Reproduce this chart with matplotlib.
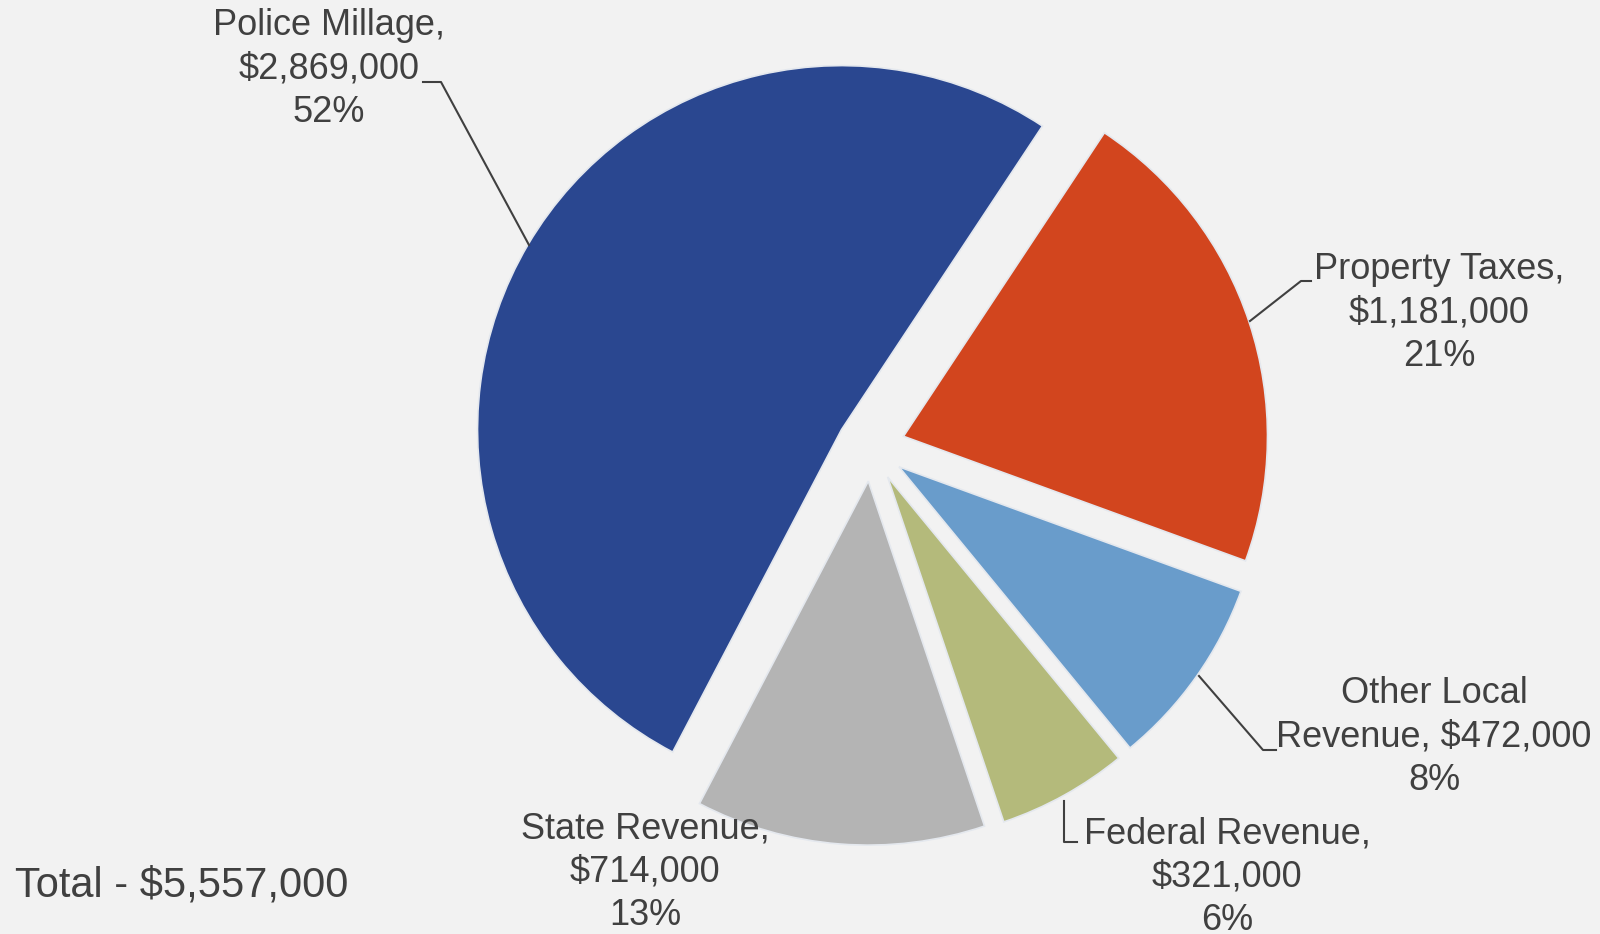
import matplotlib
matplotlib.use("Agg")
import matplotlib.pyplot as plt
from matplotlib.lines import Line2D

plt.rcParams['font.family'] = ['Liberation Sans', 'DejaVu Sans']

# ---- data ----
categories = ["Property Taxes", "Other Local Revenue", "Federal Revenue", "State Revenue", "Police Millage"]
values = [1181000, 472000, 321000, 714000, 2869000]
colors = ["#D2451E", "#699CCB", "#B4BA7B", "#B4B4B4", "#2A4790"]
label_heads = ["Property Taxes,", "Other Local\nRevenue,", "Federal Revenue,", "State Revenue,", "Police Millage,"]
total_text = "Total - $5,557,000"

W, H = 1600, 934
BG = "#F2F2F2"
TXT = "#404040"

fig = plt.figure(figsize=(W / 100, H / 100), dpi=100, facecolor=BG)
ax = fig.add_axes([0, 0, 1, 1])
ax.set_facecolor(BG)

# pie geometry in pixels
cx, cy, R = 871, 934 - 447, 364

ax.pie(values, colors=colors, startangle=56.5, counterclock=False,
       explode=[0.094] * len(values), radius=1, center=(0, 0),
       wedgeprops=dict(linewidth=1.2, edgecolor="#E4E8EE", clip_on=False))
ax.set_xlim(-cx / R, (W - cx) / R)
ax.set_ylim(-cy / R, (H - cy) / R)
ax.set_aspect("equal")
ax.axis("off")

total = sum(values)

def px(x, y):
    return x / W, 1 - y / H

# label positions (pixel centers, top-origin)
label_pos = [(1439, 313), (1434, 737), (1227, 877), (645, 872), (329, 69)]
for head, v, (x, y) in zip(label_heads, values, label_pos):
    pct = round(v / total * 100)
    if "\n" in head:
        s = f"{head} ${v:,}\n{pct}%"
    else:
        s = f"{head}\n${v:,}\n{pct}%"
    fx, fy = px(x, y)
    fig.text(fx, fy, s, ha="center", va="center", fontsize=26, color=TXT,
             linespacing=1.3)

# leader lines (pixel coords)
leaders = [
    [(1311, 281), (1301, 281), (1250, 321)],
    [(1276, 750), (1263, 750), (1199, 676)],
    [(1077, 842), (1064, 842), (1064, 801)],
    [(423, 82), (441, 82), (529, 245)],
]
for pts in leaders:
    xs = [p[0] / W for p in pts]
    ys = [1 - p[1] / H for p in pts]
    fig.add_artist(Line2D(xs, ys, transform=fig.transFigure, color=TXT, linewidth=1.5))

fx, fy = px(15, 886)
fig.text(fx, fy, total_text, ha="left", va="center", fontsize=30, color=TXT)

fig.savefig("out.png", dpi=100, facecolor=BG)
